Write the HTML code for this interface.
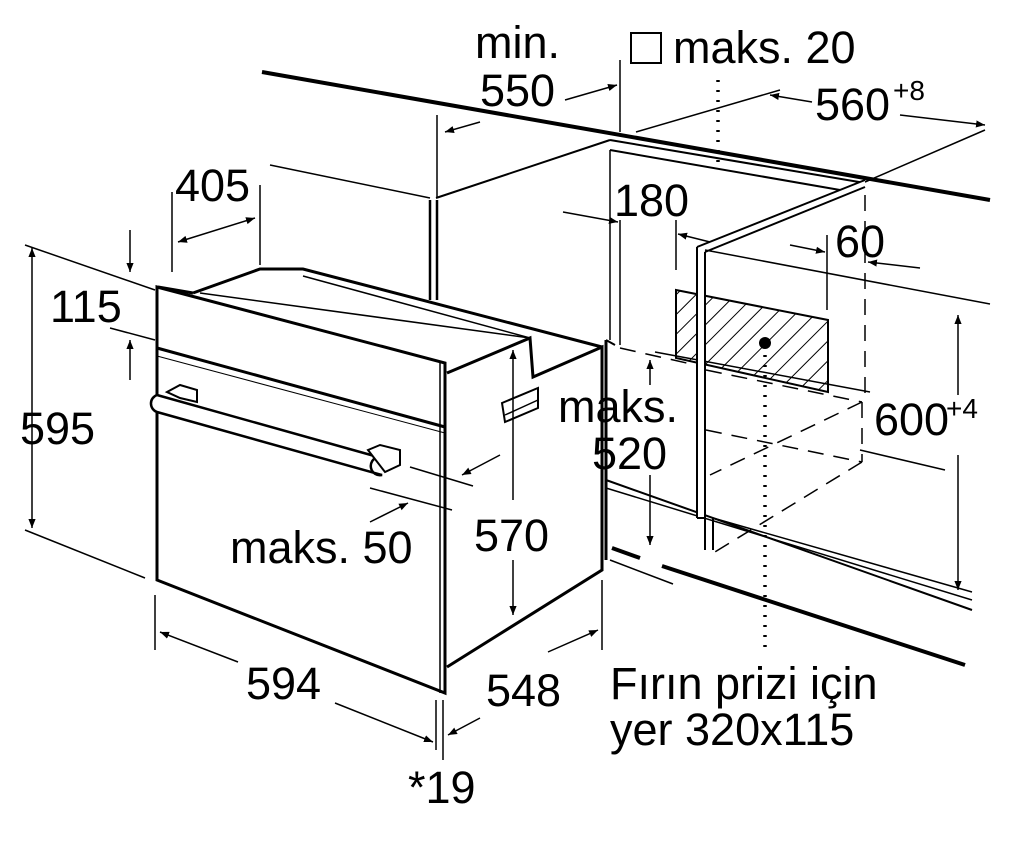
<!DOCTYPE html>
<html><head><meta charset="utf-8"><style>
html,body{margin:0;padding:0;background:#fff;}
svg{display:block;}
text{font-family:"Liberation Sans",sans-serif;fill:#000;}
</style></head><body>
<svg width="1012" height="842" viewBox="0 0 1012 842" xmlns="http://www.w3.org/2000/svg">
<defs>
<marker id="a" viewBox="0 0 10 10" refX="10" refY="5" markerWidth="9" markerHeight="9" orient="auto-start-reverse" markerUnits="userSpaceOnUse"><path d="M0,1 L10,5 L0,9 Z" fill="#000"/></marker>
<pattern id="h" width="14" height="14" patternUnits="userSpaceOnUse" patternTransform="rotate(45)"><line x1="0" y1="0" x2="0" y2="14" stroke="#000" stroke-width="2"/></pattern>
</defs>
<g stroke="#000" fill="none" stroke-width="2">
<!-- countertop -->
<line x1="262" y1="72" x2="990" y2="200" stroke-width="4"/>
<line x1="610" y1="140" x2="865" y2="183" stroke-width="2"/>
<line x1="610" y1="150" x2="840" y2="190" stroke-width="2"/>
<line x1="436" y1="198" x2="610" y2="140"/>
<line x1="865" y1="182" x2="985" y2="130" stroke-width="1.5"/>
<line x1="636" y1="132" x2="780" y2="90" stroke-width="1.5"/>
<!-- cabinet left -->
<line x1="430" y1="200" x2="430" y2="300" stroke-width="2.5"/>
<line x1="437" y1="200" x2="437" y2="300" stroke-width="2.5"/>
<line x1="610" y1="150" x2="610" y2="340" stroke-width="1.5"/>
<line x1="606" y1="340" x2="606" y2="560" stroke-width="3"/>
<line x1="606" y1="480" x2="972" y2="610" stroke-width="2"/>
<line x1="606" y1="488" x2="972" y2="600" stroke-width="1.5"/>
<line x1="612" y1="548" x2="640" y2="558" stroke-width="4"/>
<line x1="662" y1="566" x2="965" y2="665" stroke-width="4"/>
<line x1="610" y1="560" x2="673" y2="584" stroke-width="1.5"/>
<line x1="606" y1="340" x2="615" y2="345" />
<line x1="655" y1="352" x2="870" y2="392" stroke-width="1.5"/>
<!-- hatch -->
<polygon points="676,290 828,320 828,392 676,358" fill="url(#h)" stroke-width="2"/>
<circle cx="765" cy="343" r="6" fill="#000" stroke="none"/>
<line x1="765" y1="355" x2="765" y2="650" stroke-width="3.5" stroke-dasharray="2,8"/>
<line x1="718" y1="80" x2="718" y2="165" stroke-width="3.5" stroke-dasharray="2,8"/>
<!-- dashed box -->
<g stroke-dasharray="16,10" stroke-width="1.5">
<line x1="706" y1="370" x2="862" y2="402"/>
<line x1="706" y1="430" x2="862" y2="462"/>
<line x1="862" y1="402" x2="862" y2="462"/>
<line x1="862" y1="402" x2="710" y2="475"/>
<line x1="862" y1="462" x2="710" y2="555"/>
<line x1="865" y1="195" x2="865" y2="400"/>
<line x1="620" y1="348" x2="700" y2="366"/>
</g>
<!-- right panel -->
<polygon points="697,247 865,180 865,187 705,252 705,518 697,518" fill="#fff" stroke="none"/>
<line x1="697" y1="247" x2="697" y2="518" stroke-width="2"/>
<line x1="705" y1="252" x2="705" y2="518" stroke-width="2"/>
<line x1="697" y1="247" x2="865" y2="180"/>
<line x1="705" y1="252" x2="865" y2="187"/>
<line x1="697" y1="518" x2="705" y2="518"/>
<line x1="705" y1="250" x2="990" y2="304" stroke-width="1.5"/>
<line x1="705" y1="518" x2="705" y2="550"/>
<line x1="713" y1="518" x2="713" y2="550"/>
<line x1="713" y1="518" x2="972" y2="592" stroke-width="1.5"/>
<line x1="860" y1="450" x2="945" y2="470" stroke-width="1.5"/>
<!-- oven -->
<polygon points="157,287 445,363 445,693 157,580" fill="#fff" stroke-width="3"/>
<line x1="157" y1="348" x2="445" y2="427" stroke-width="3"/>
<line x1="157" y1="356" x2="445" y2="433" stroke-width="1"/>
<line x1="445" y1="363" x2="445" y2="693" stroke-width="3"/>
<line x1="440" y1="363" x2="440" y2="693" stroke-width="1.5"/>
<polyline points="447,373 530,338 533,377 602,347 602,570 447,667" stroke-width="3"/>
<polyline points="193,293 260,269 303,269 602,347" stroke-width="3"/>
<line x1="200" y1="293" x2="530" y2="338" stroke-width="1.5"/>
<line x1="303" y1="276" x2="530" y2="338" stroke-width="1.5"/>
<line x1="158" y1="287" x2="193" y2="293" stroke-width="3"/>
<!-- handle -->
<polygon points="167,392 180,385 197,390 197,402 180,398" fill="#fff"/>
<path d="M157,395 L378,457 A9,9 0 0 0 382,475 L157,412 A9,9 0 0 1 157,395 Z" stroke-width="2.5" fill="#fff"/>
<polygon points="368,450 380,445 400,450 400,465 385,472" fill="#fff"/>
<polygon points="502,403 538,388 538,408 505,422" fill="#fff"/>
<line x1="505" y1="415" x2="538" y2="400" stroke-width="1.5"/>
<!-- dimension lines -->
<line x1="25" y1="245" x2="155" y2="290" stroke-width="1.5"/>
<line x1="25" y1="530" x2="145" y2="578" stroke-width="1.5"/>
<line x1="32" y1="248" x2="32" y2="528" marker-start="url(#a)" marker-end="url(#a)" stroke-width="1.5"/>
<line x1="130" y1="230" x2="130" y2="272" marker-end="url(#a)" stroke-width="1.5"/>
<line x1="130" y1="380" x2="130" y2="340" marker-end="url(#a)" stroke-width="1.5"/>
<line x1="110" y1="328" x2="155" y2="340" stroke-width="1.5"/>
<line x1="172" y1="192" x2="172" y2="272" stroke-width="1.5"/>
<line x1="260" y1="185" x2="260" y2="265" stroke-width="1.5"/>
<line x1="178" y1="242" x2="255" y2="218" marker-start="url(#a)" marker-end="url(#a)" stroke-width="1.5"/>
<line x1="270" y1="165" x2="430" y2="198" stroke-width="1.5"/>
<line x1="437" y1="115" x2="437" y2="198" stroke-width="1.5"/>
<line x1="620" y1="60" x2="620" y2="132" stroke-width="1.5"/>
<line x1="445" y1="132" x2="480" y2="122" marker-start="url(#a)" stroke-width="1.5"/>
<line x1="565" y1="100" x2="617" y2="85" marker-end="url(#a)" stroke-width="1.5"/>
<line x1="770" y1="95" x2="812" y2="102" marker-start="url(#a)" stroke-width="1.5"/>
<line x1="900" y1="115" x2="985" y2="125" marker-end="url(#a)" stroke-width="1.5"/>
<line x1="620" y1="220" x2="620" y2="345" stroke-width="1.5"/>
<line x1="563" y1="212" x2="618" y2="222" marker-end="url(#a)" stroke-width="1.5"/>
<line x1="676" y1="220" x2="676" y2="270" stroke-width="1.5"/>
<line x1="710" y1="242" x2="678" y2="234" marker-end="url(#a)" stroke-width="1.5"/>
<line x1="827" y1="235" x2="827" y2="310" stroke-width="1.5"/>
<line x1="790" y1="245" x2="825" y2="252" marker-end="url(#a)" stroke-width="1.5"/>
<line x1="920" y1="268" x2="868" y2="262" marker-end="url(#a)" stroke-width="1.5"/>
<line x1="958" y1="315" x2="958" y2="395" marker-start="url(#a)" stroke-width="1.5"/>
<line x1="958" y1="455" x2="958" y2="590" marker-end="url(#a)" stroke-width="1.5"/>
<line x1="650" y1="385" x2="650" y2="360" marker-end="url(#a)" stroke-width="1.5"/>
<line x1="650" y1="475" x2="650" y2="545" marker-end="url(#a)" stroke-width="1.5"/>
<line x1="513" y1="350" x2="513" y2="500" marker-start="url(#a)" stroke-width="1.5"/>
<line x1="513" y1="560" x2="513" y2="615" marker-end="url(#a)" stroke-width="1.5"/>
<line x1="410" y1="467" x2="473" y2="486" stroke-width="1.5"/>
<line x1="370" y1="488" x2="452" y2="510" stroke-width="1.5"/>
<line x1="500" y1="455" x2="462" y2="475" marker-end="url(#a)" stroke-width="1.5"/>
<line x1="370" y1="522" x2="408" y2="503" marker-end="url(#a)" stroke-width="1.5"/>
<line x1="155" y1="595" x2="155" y2="650" stroke-width="1.5"/>
<line x1="436" y1="700" x2="436" y2="750" stroke-width="1.5"/>
<line x1="443" y1="700" x2="443" y2="760" stroke-width="1.5"/>
<line x1="602" y1="580" x2="602" y2="650" stroke-width="1.5"/>
<line x1="160" y1="632" x2="238" y2="662" marker-start="url(#a)" stroke-width="1.5"/>
<line x1="335" y1="703" x2="433" y2="742" marker-end="url(#a)" stroke-width="1.5"/>
<line x1="548" y1="652" x2="598" y2="630" marker-end="url(#a)" stroke-width="1.5"/>
<line x1="448" y1="735" x2="480" y2="718" marker-start="url(#a)" stroke-width="1.5"/>
</g>
<rect x="631" y="33" width="30" height="30" fill="none" stroke="#000" stroke-width="2"/>
<g font-size="45">
<text x="475" y="58">min.</text>
<text x="480" y="106">550</text>
<text x="673" y="63">maks. 20</text>
<text x="815" y="120">560</text><text x="893" y="100" font-size="28">+8</text>
<text x="175" y="201">405</text>
<text x="614" y="216">180</text>
<text x="835" y="257">60</text>
<text x="50" y="322">115</text>
<text x="20" y="444">595</text>
<text x="558" y="422">maks.</text>
<text x="592" y="469">520</text>
<text x="874" y="435">600</text><text x="946" y="418" font-size="28">+4</text>
<text x="474" y="551">570</text>
<text x="230" y="563">maks. 50</text>
<text x="246" y="699">594</text>
<text x="486" y="706">548</text>
<text x="610" y="699">Fırın prizi için</text>
<text x="610" y="745">yer 320x115</text>
<text x="408" y="803">*19</text>
</g>
</svg>
</body></html>
